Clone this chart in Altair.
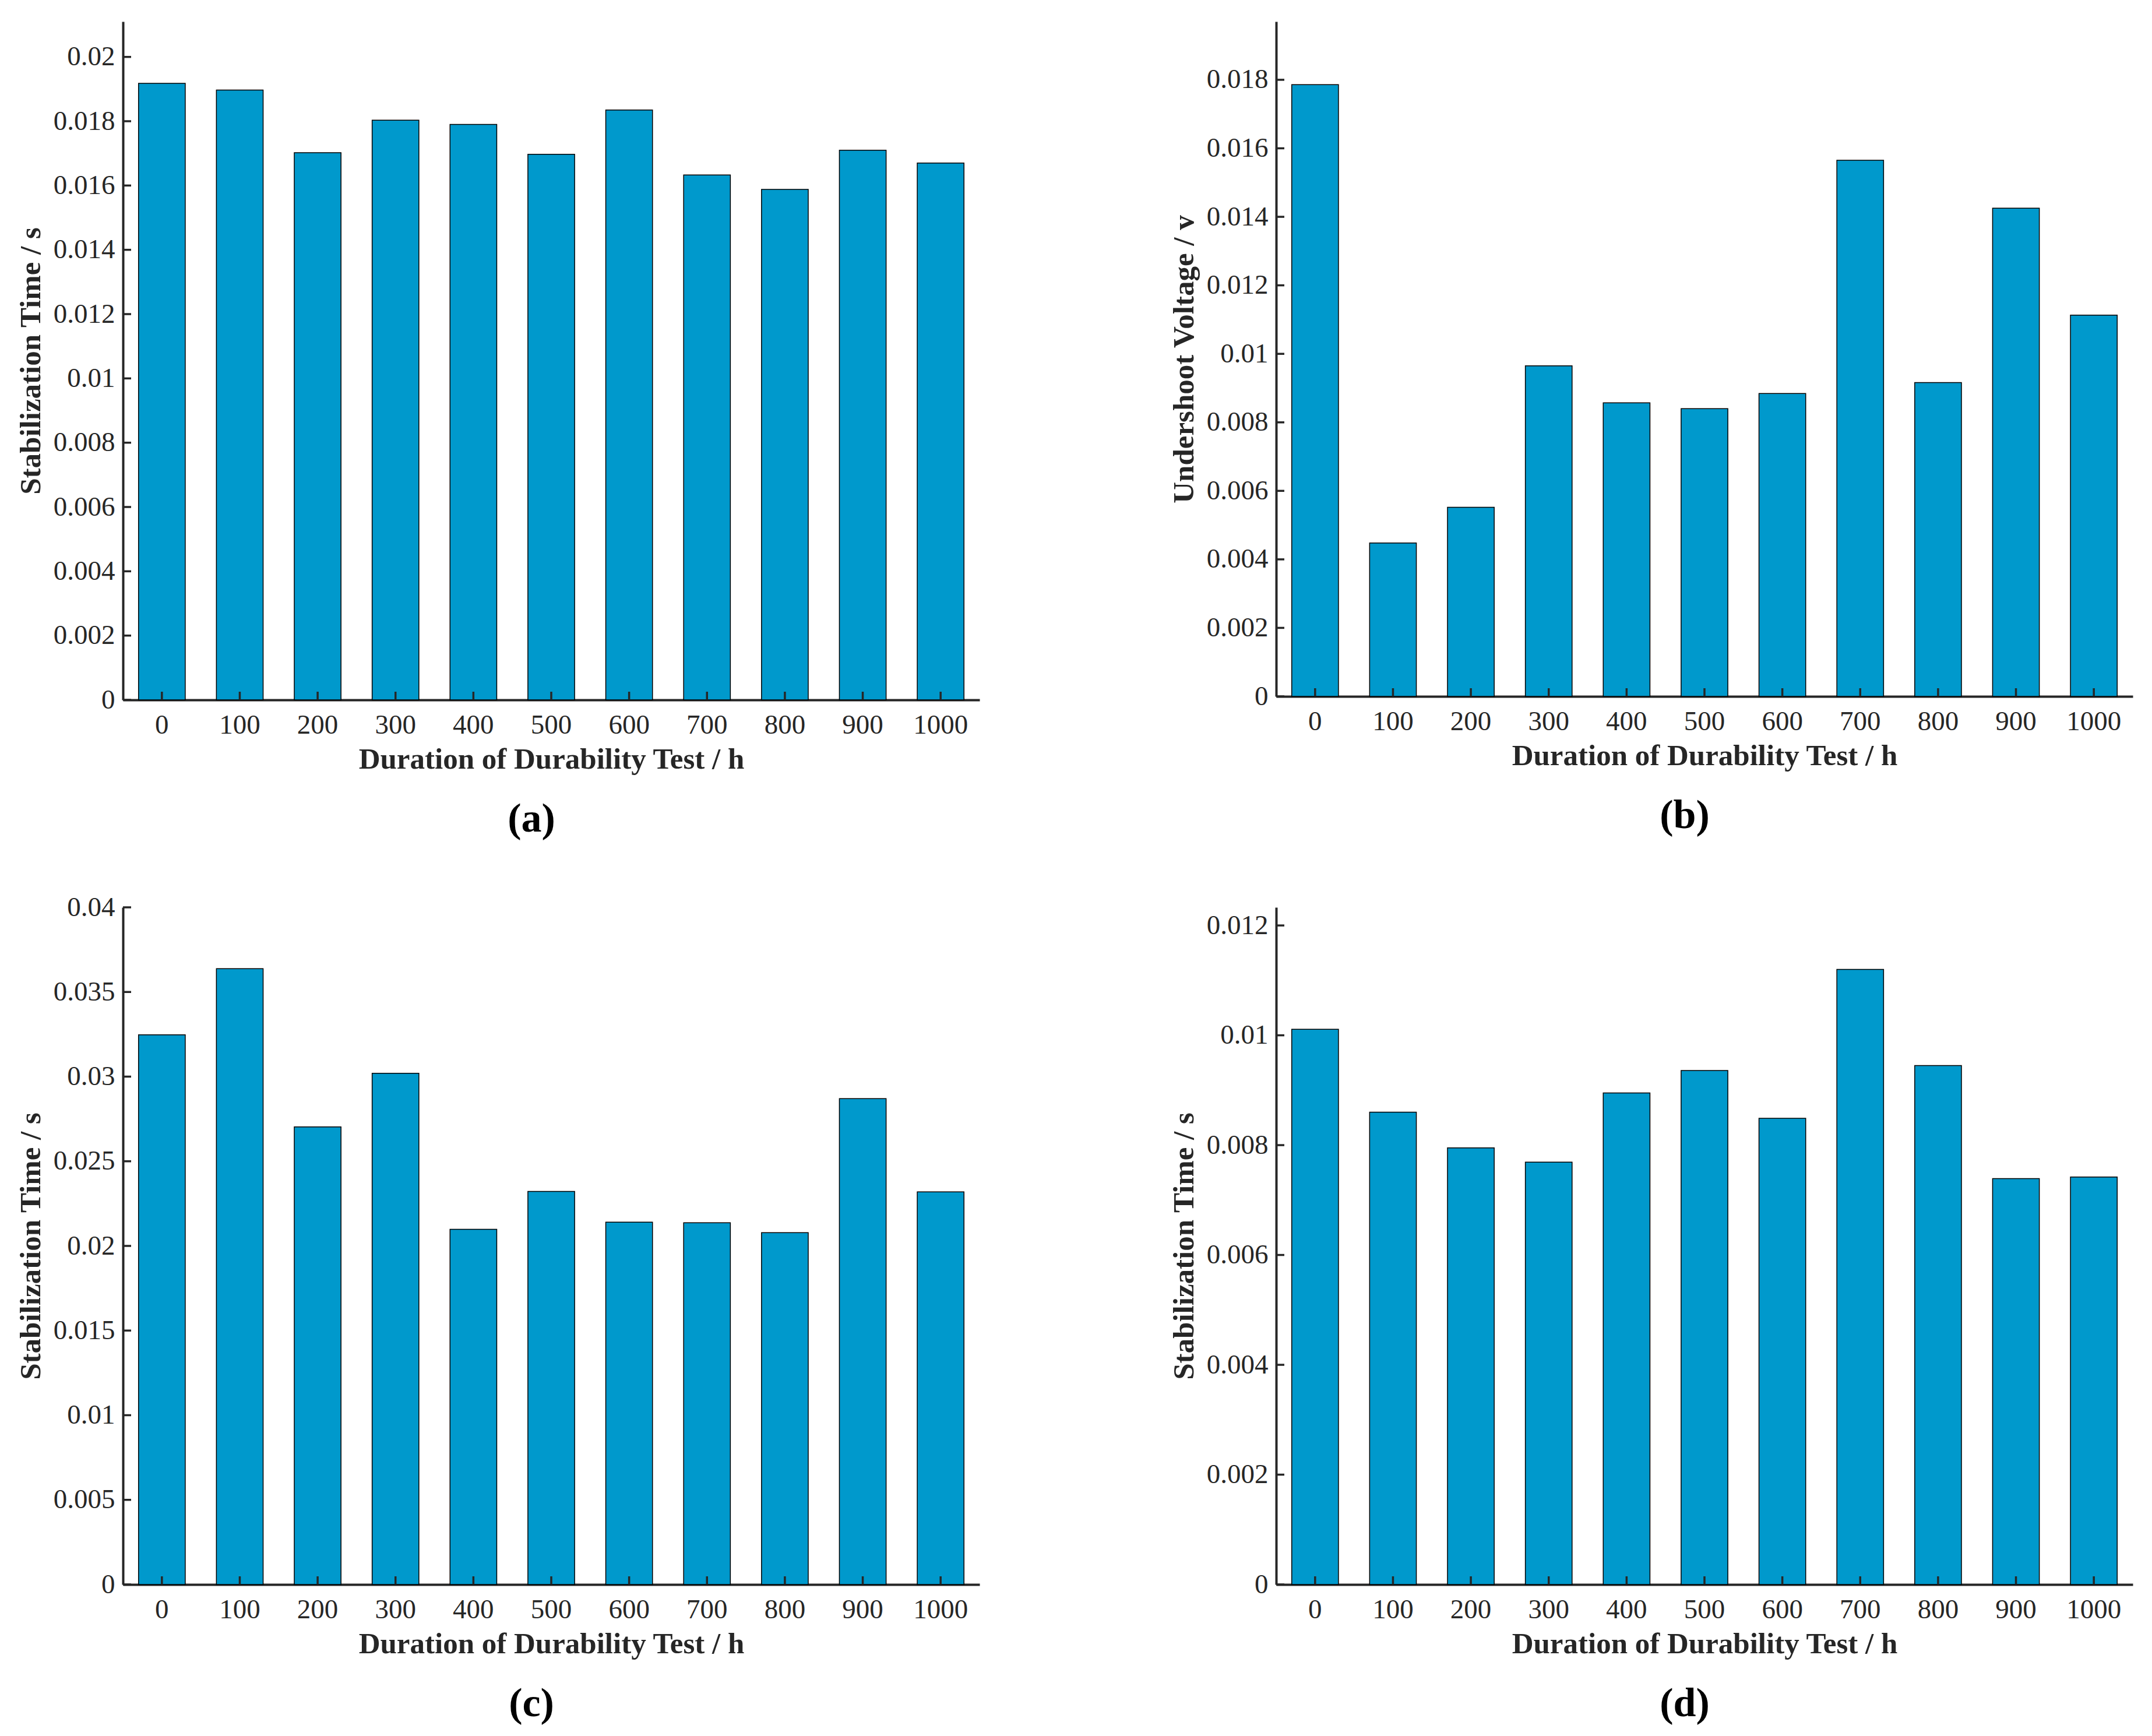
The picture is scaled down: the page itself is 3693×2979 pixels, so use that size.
import altair as alt
import pandas as pd

hours = ["0", "100", "200", "300", "400", "500", "600", "700", "800", "900", "1000"]

# (a) Stabilization Time / s
a_vals = [0.01918, 0.01897, 0.01702, 0.01803, 0.01790, 0.01697, 0.01835, 0.01633, 0.01588, 0.01710, 0.01670]
a_ticks = [0, 0.002, 0.004, 0.006, 0.008, 0.01, 0.012, 0.014, 0.016, 0.018, 0.02]
a_max = 0.0211

# (b) Undershoot Voltage / v
b_vals = [0.01786, 0.00448, 0.00552, 0.00965, 0.00857, 0.00840, 0.00884, 0.01565, 0.00916, 0.01425, 0.01113]
b_ticks = [0, 0.002, 0.004, 0.006, 0.008, 0.01, 0.012, 0.014, 0.016, 0.018]
b_max = 0.0197

# (c) Stabilization Time / s
c_vals = [0.03247, 0.03638, 0.02703, 0.03020, 0.02098, 0.02322, 0.02140, 0.02137, 0.02078, 0.02870, 0.02319]
c_ticks = [0, 0.005, 0.01, 0.015, 0.02, 0.025, 0.03, 0.035, 0.04]
c_max = 0.04

# (d) Stabilization Time / s
d_vals = [0.01011, 0.00860, 0.00795, 0.00769, 0.00895, 0.00936, 0.00849, 0.01120, 0.00945, 0.00739, 0.00742]
d_ticks = [0, 0.002, 0.004, 0.006, 0.008, 0.01, 0.012]
d_max = 0.01233

BAR = "#0099CC"
INK = "#262626"
FONT = "Liberation Serif"
W = 1470


def panel(vals, ytitle, ymax, yticks, caption, dx, h):
    df = pd.DataFrame({"t": hours, "v": vals})
    tdf = pd.DataFrame({"v": yticks})
    yscale = alt.Scale(domain=[0, ymax], nice=False, zero=True)
    xscale = alt.Scale(paddingInner=0.4, paddingOuter=0.2)
    xaxis = alt.Axis(title="Duration of Durability Test / h", labelAngle=0,
                     ticks=False, labelPadding=20, titlePadding=11)
    yaxis = alt.Axis(values=yticks, format="~g", title=ytitle, ticks=False,
                     labelPadding=14, titlePadding=12, grid=False)
    bars = alt.Chart(df).mark_bar(color=BAR, stroke="black", strokeWidth=1.5).encode(
        x=alt.X("t:N", sort=hours, scale=xscale, axis=xaxis),
        y=alt.Y("v:Q", scale=yscale, axis=yaxis),
    )
    xt = alt.Chart(df).mark_rule(color=INK, strokeWidth=3.5).encode(
        x=alt.X("t:N", sort=hours, scale=xscale, axis=xaxis),
        y=alt.value(h), y2=alt.value(h - 14),
    )
    yt = alt.Chart(tdf).mark_rule(color=INK, strokeWidth=3.5).encode(
        y=alt.Y("v:Q", scale=yscale, axis=yaxis),
        x=alt.value(0), x2=alt.value(14),
    )
    return alt.layer(bars, xt, yt).properties(
        width=W, height=h,
        title=alt.TitleParams(caption, orient="bottom", anchor="middle", frame="group",
                              dx=dx, offset=44, fontSize=70, fontWeight="bold",
                              font=FONT, color="black"),
    )


pa = panel(a_vals, "Stabilization Time / s", a_max, a_ticks, "(a)", -34, 1164)
pb = panel(b_vals, "Undershoot Voltage / v", b_max, b_ticks, "(b)", -34, 1158)
pc = panel(c_vals, "Stabilization Time / s", c_max, c_ticks, "(c)", -34, 1162)
pd_ = panel(d_vals, "Stabilization Time / s", d_max, d_ticks, "(d)", -34, 1162)

chart = alt.concat(pa, pb, pc, pd_, columns=2, spacing={"row": 92, "column": 325}).properties(
    padding={"left": 19, "top": 29, "right": 5, "bottom": 5},
    background="white",
).configure_view(stroke=None).configure_axis(
    domainColor=INK, domainWidth=4,
    labelFont=FONT, labelFontSize=47, labelColor=INK,
    titleFont=FONT, titleFontSize=51, titleFontWeight="bold", titleColor=INK,
)

chart.save("out.html", embed_options={"renderer": "svg", "actions": False})
